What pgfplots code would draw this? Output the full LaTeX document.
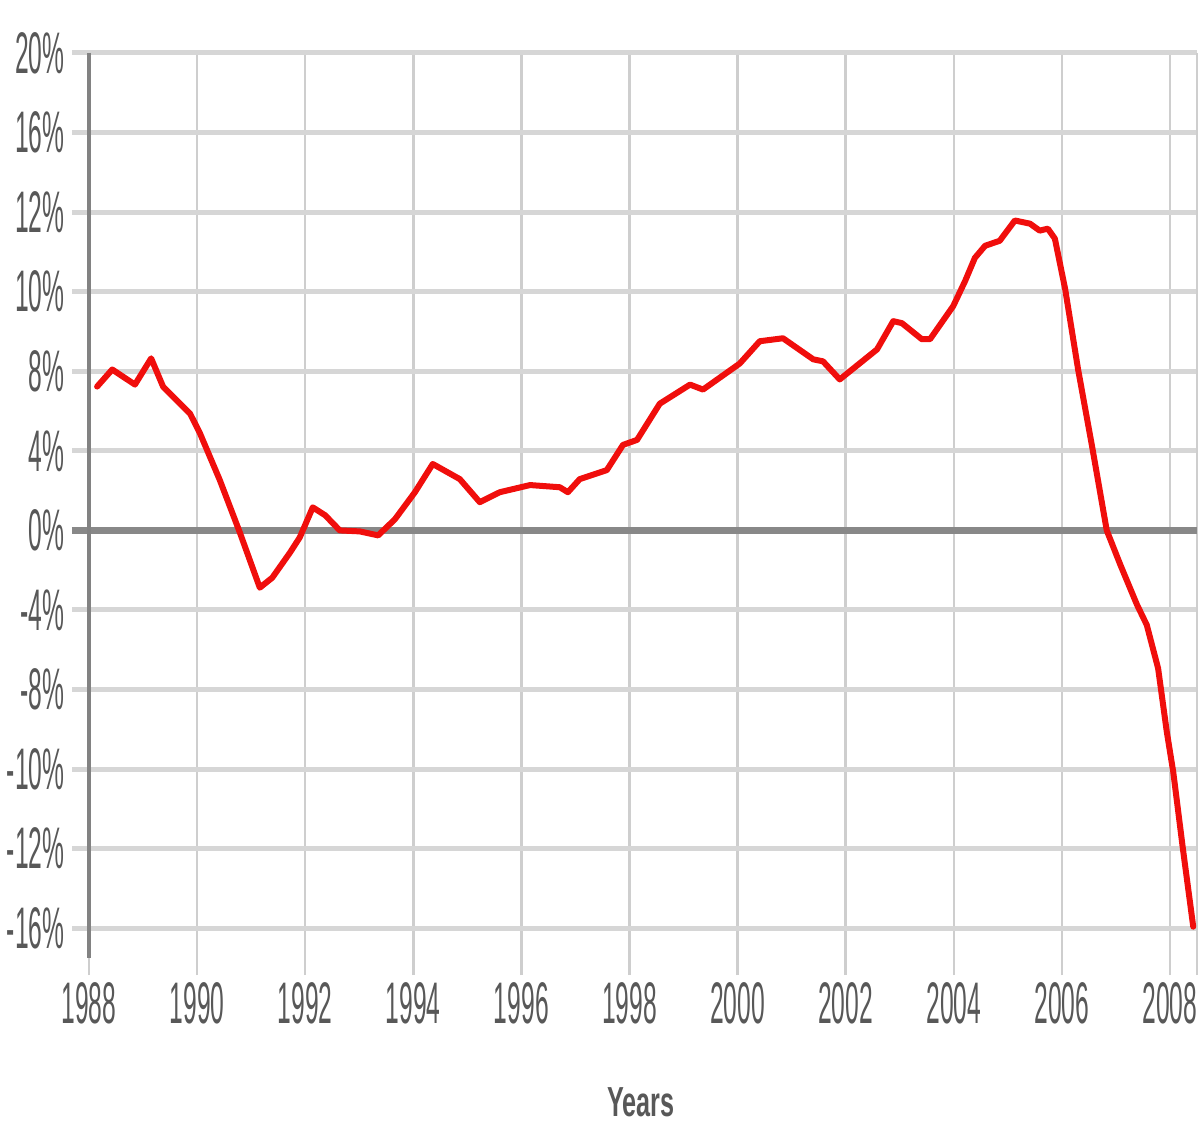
\documentclass[border=0pt]{standalone}
\usepackage{pgfplots}
\pgfplotsset{compat=1.18}
\usepackage{fontspec}
\setmainfont{Liberation Sans}[FakeStretch=0.42]
\newfontfamily\yearsfont{Liberation Sans}[FakeStretch=0.6]
\definecolor{txtc}{RGB}{88,88,88}
\definecolor{hgridc}{RGB}{214,214,214}
\definecolor{vgridc}{RGB}{206,206,206}
\definecolor{zeroc}{RGB}{136,136,136}
\definecolor{axisc}{RGB}{130,130,130}
\definecolor{linec}{RGB}{240,14,12}
\begin{document}
\begin{tikzpicture}
\path[use as bounding box] (-26.7pt,-46.8pt) rectangle (333.9pt,292.5pt);
\begin{axis}[
  at={(0pt,0pt)}, anchor=south west,
  scale only axis,
  width=332.4pt, height=276.6pt,
  xmin=1988, xmax=2008.5,
  ymin=-22.35, ymax=24,
  clip=false,
  axis line style={draw=none},
  xtick={1988,1990,...,2008},
  xticklabels={1988,1990,1992,1994,1996,1998,2000,2002,2004,2006,2008},
  extra x ticks={2008.5},
  extra x tick labels={},
  ytick={-20,-16,-12,-8,-4,0,4,8,12,16,20,24},
  yticklabels={-16\%,-12\%,-10\%,-8\%,-4\%,0\%,4\%,8\%,10\%,12\%,16\%,20\%},
  ytick pos=left,
  tick align=outside,
  major tick length=5.1pt,
  xtick style={draw=none},
  ytick style={color=hgridc, line width=1.5pt},
  grid=major,
  x grid style={color=vgridc, line width=0.75pt},
  y grid style={color=hgridc, line width=1.5pt},
  /pgf/number format/assume math mode=true,
  ticklabel style={font=\fontsize{17.6}{18}\selectfont, text=txtc},
  yticklabel style={inner sep=0pt, xshift=-2.1pt},
  xticklabel style={inner sep=0pt, yshift=3.0pt},
  xlabel={Years},
  xlabel style={at={(axis description cs:0.498,0)}, anchor=center, yshift=-38.1pt, inner sep=0pt,
    font=\yearsfont\bfseries\fontsize{12.6}{13}\selectfont, text=txtc},
]
\draw[zeroc, line width=2.1pt] ([xshift=-5.1pt]axis cs:1988,0) -- (axis cs:2008.5,0);
\draw[axisc, line width=1.2pt] (axis cs:1988,24) -- (axis cs:1988,-21.5);
\addplot[color=linec, line width=1.8pt, line join=round, line cap=round, mark=none] coordinates {
(1988.15,7.23) (1988.43,8.09) (1988.85,7.33) (1989.15,8.65) (1989.37,7.23)
(1989.87,5.87) (1990.05,4.90) (1990.42,2.53) (1990.79,-0.10) (1991.16,-2.88)
(1991.39,-2.38) (1991.72,-1.11) (1991.90,-0.35) (1992.14,1.16) (1992.37,0.76)
(1992.64,0.00) (1993.01,-0.05) (1993.35,-0.25) (1993.66,0.56) (1994.03,1.92)
(1994.36,3.34) (1994.86,2.58) (1995.23,1.42) (1995.60,1.92) (1996.16,2.28)
(1996.71,2.17) (1996.86,1.92) (1997.08,2.58) (1997.58,3.03) (1997.88,4.30)
(1998.14,4.55) (1998.56,6.37) (1999.12,7.33) (1999.36,7.08) (2000.04,8.39)
(2000.41,9.51) (2000.84,9.66) (2001.40,8.60) (2001.58,8.50) (2001.89,7.59)
(2002.58,9.10) (2002.88,10.52) (2003.04,10.42) (2003.41,9.61) (2003.56,9.61)
(2003.99,11.28) (2004.21,12.54) (2004.39,13.70) (2004.58,14.31) (2004.85,14.56)
(2005.13,15.58) (2005.41,15.42) (2005.59,15.07) (2005.74,15.17) (2005.87,14.67)
(2006.06,12.14) (2006.30,8.09) (2006.56,4.20) (2006.83,0.00) (2007.08,-1.72)
(2007.39,-3.74) (2007.57,-4.75) (2007.78,-6.93) (2007.94,-10.11) (2008.06,-12.14)
(2008.24,-16.03) (2008.43,-19.92)
};
\end{axis}
\end{tikzpicture}
\end{document}
